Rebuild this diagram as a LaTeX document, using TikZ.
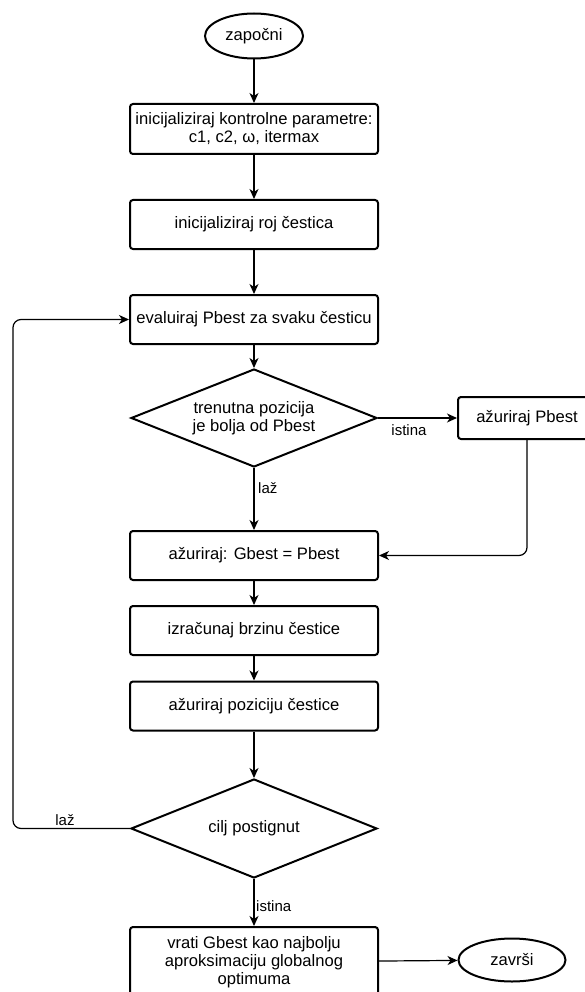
\documentclass[tikz,border=0pt]{standalone}
\usepackage{fontspec}
\setmainfont{Liberation Sans}
\usetikzlibrary{shapes.geometric,arrows.meta}
\begin{document}
\begin{tikzpicture}[x=1pt,y=-1pt,
  mainfont/.style={font=\fontsize{16.6}{18}\selectfont},
  box/.style={draw, line width=2pt, rounded corners=3pt, minimum width=248pt,
    minimum height=49pt, inner sep=2pt, align=center, mainfont},
  dec/.style={draw, line width=2pt, diamond, shape aspect=2.5, minimum width=246pt,
    minimum height=98pt, inner sep=0pt, align=center, mainfont},
  term/.style={draw, line width=2pt, ellipse, minimum width=98pt, minimum height=45pt,
    inner sep=0pt, mainfont},
  conn/.style={line width=1.2pt, -{Stealth[length=10pt,width=9pt,inset=3pt]}},
  lbl/.style={font=\fontsize{15}{16}\selectfont, inner sep=0pt}]
\useasboundingbox (0,0) rectangle (584,992);

\node[term] (start) at (254,36) {započni};
\node[box, minimum height=50pt] (init) at (254,129) {inicijaliziraj kontrolne parametre:\\c1, c2, ω, itermax};
\node[box] (swarm) at (254,224.5) {inicijaliziraj roj čestica};
\node[box] (eval) at (254,319.5) {evaluiraj Pbest za svaku česticu};
\node[dec] (cmp) at (254,418) {trenutna pozicija\\je bolja od Pbest};
\node[box, minimum width=138pt, minimum height=42pt] (upd) at (527,418) {ažuriraj Pbest};
\node[box] (gbest) at (254,555.5) {ažuriraj: Gbest = Pbest};
\node[box] (vel) at (254,630.5) {izračunaj brzinu čestice};
\node[box] (pos) at (254,706) {ažuriraj poziciju čestice};
\node[dec, minimum height=99pt] (goal) at (254,828.5) {cilj postignut};
\node[box, minimum height=70pt] (ret) at (254,962) {vrati Gbest kao najbolju\\aproksimaciju globalnog\\optimuma};
\node[term, minimum width=107pt, minimum height=43pt] (end) at (512,960) {završi};

\coordinate (lp) at (13,828.5);

\draw[conn] (start) -- (init);
\draw[conn] (init) -- (swarm);
\draw[conn] (swarm) -- (eval);
\draw[conn] (eval) -- (cmp);
\draw[conn] (cmp) -- (gbest);
\draw[conn] (cmp) -- (upd);
\draw[conn, rounded corners=8pt] (upd.south) |- (gbest.east);
\draw[conn] (gbest) -- (vel);
\draw[conn] (vel) -- (pos);
\draw[conn] (pos) -- (goal);
\draw[conn, rounded corners=8pt] (goal.west) -- (lp) |- (eval.west);
\draw[conn] (goal) -- (ret);
\draw[conn] (ret) -- (end);

\node[lbl, anchor=west] (l1) at (258,488) {laž};
\node[lbl] (l2) at (409,430) {istina};
\node[lbl] (l3) at (65,820) {laž};
\node[lbl, anchor=west] (l4) at (256,906) {istina};
\end{tikzpicture}
\end{document}
